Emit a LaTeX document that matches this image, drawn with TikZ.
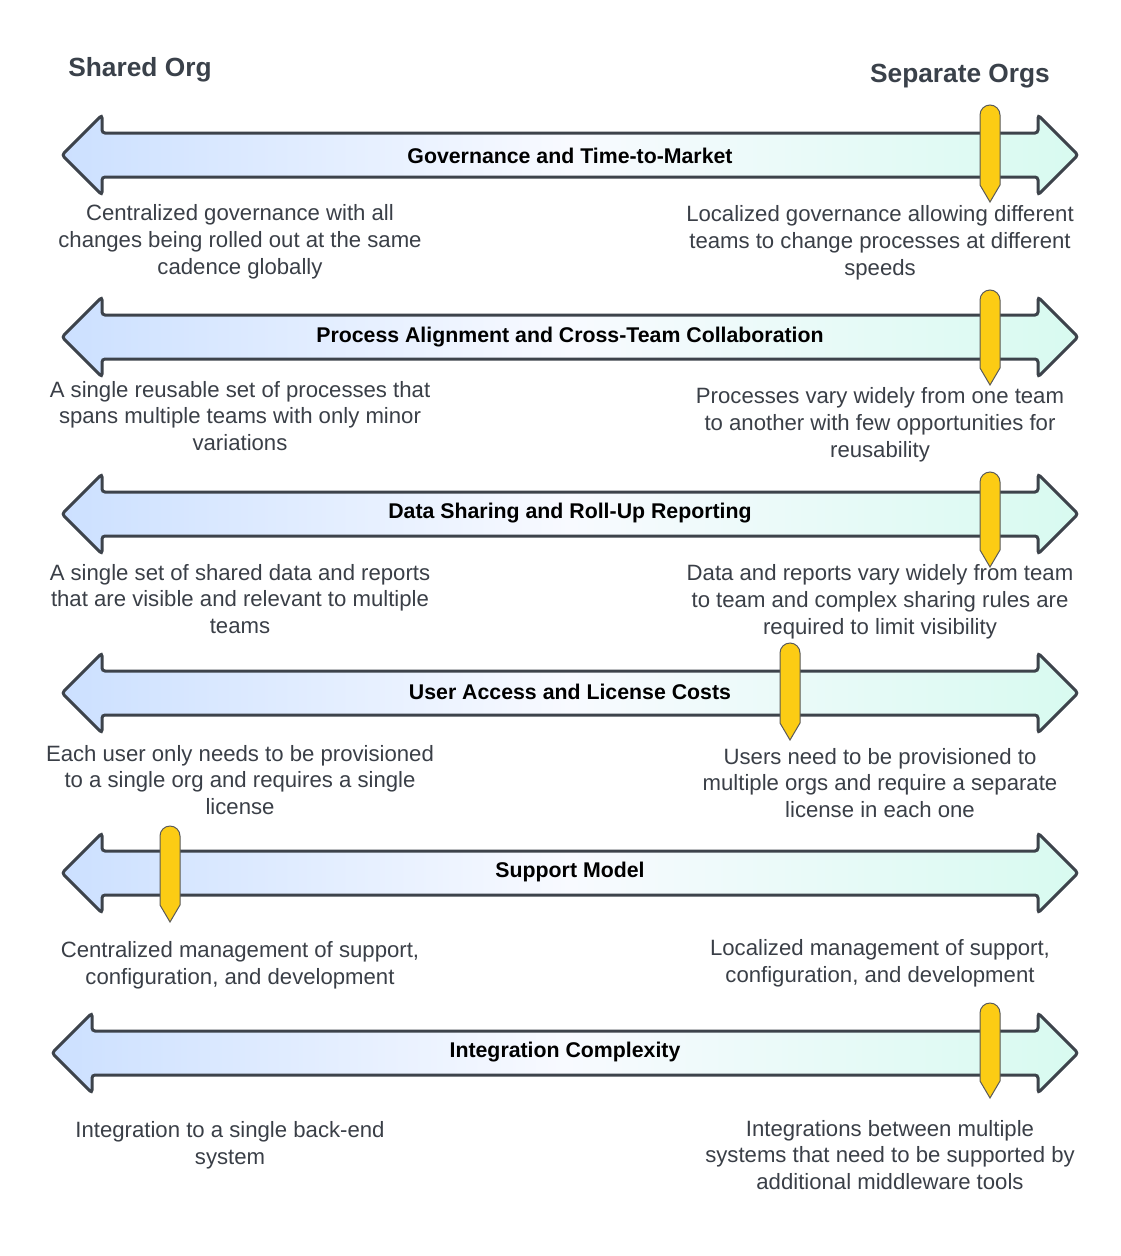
\documentclass[tikz,border=0pt]{standalone}
\usepackage{fontspec}
\setmainfont{Liberation Sans}
\definecolor{arrowline}{HTML}{3D434B}
\definecolor{leftblue}{HTML}{CCE0FF}
\definecolor{midwhite}{HTML}{F8FAFF}
\definecolor{rightcyan}{HTML}{D8FAF0}
\definecolor{markeryellow}{HTML}{FCCC14}
\definecolor{markerline}{HTML}{5A5A5A}
\definecolor{bodytext}{HTML}{3A3F47}
\definecolor{titletext}{HTML}{3A414A}
\tikzset{
  bararrow/.style={draw=arrowline, line width=3pt, rounded corners=3pt, left color=leftblue, right color=rightcyan, middle color=midwhite},
  orgmark/.style={draw=markerline, line width=1pt, fill=markeryellow},
  desc/.style={text=bodytext, font=\fontsize{22.15}{26.8}\selectfont, align=center, inner sep=0pt},
  barlabel/.style={text=black, font=\fontsize{21.3}{25}\selectfont\bfseries, inner sep=0pt},
  headtitle/.style={text=titletext, font=\fontsize{26.3}{30}\selectfont\bfseries, inner sep=0pt}
}
\newcommand\drawbar[3]{% left tip x, right tip x, center y
  \path[bararrow] (#1,#3) -- (#1+40,#3-40) -- (#1+40,#3-22) -- (#2-40,#3-22) -- (#2-40,#3-40) -- (#2,#3)
    -- (#2-40,#3+40) -- (#2-40,#3+22) -- (#1+40,#3+22) -- (#1+40,#3+40) -- cycle;}
\newcommand\drawmarker[3]{% x, top y, bottom y
  \path[orgmark] (#1-10,#2+10) arc (180:360:10) -- (#1+10,#3-17) -- (#1,#3) -- (#1-10,#3-17) -- cycle;}
\begin{document}
\begin{tikzpicture}[x=1pt,y=-1pt]
\useasboundingbox[fill=white] (0,0) rectangle (1120,1256);

\node[headtitle] (shared) at (140,70) {Shared Org};
\node[headtitle] (separate) at (960,76) {Separate Orgs};

% Bar 1
\drawbar{62}{1078}{155}
\node[barlabel] (lab1) at (570,156) {Governance and Time-to-Market};
\drawmarker{990}{105}{202}
\node[desc] (l1) at (240,242) {Centralized governance with all\\changes being rolled out at the same\\cadence globally};
\node[desc] (r1) at (880,243) {Localized governance allowing different\\teams to change processes at different\\speeds};

% Bar 2
\drawbar{62}{1078}{337}
\node[barlabel] (lab2) at (570,337) {Process Alignment and Cross-Team Collaboration};
\drawmarker{990}{290}{385}
\node[desc] (l2) at (240,416) {A single reusable set of processes that\\spans multiple teams with only minor\\variations};
\node[desc] (r2) at (880,425) {Processes vary widely from one team\\to another with few opportunities for\\reusability};

% Bar 3
\drawbar{62}{1078}{514}
\node[barlabel] (lab3) at (570,513) {Data Sharing and Roll-Up Reporting};
\drawmarker{990}{472}{567}
\node[desc] (l3) at (240,599) {A single set of shared data and reports\\that are visible and relevant to multiple\\teams};
\node[desc] (r3) at (880,602) {Data and reports vary widely from team\\to team and complex sharing rules are\\required to limit visibility};

% Bar 4
\drawbar{62}{1078}{693}
\node[barlabel] (lab4) at (570,692) {User Access and License Costs};
\drawmarker{790}{643}{740}
\node[desc] (l4) at (240,780) {Each user only needs to be provisioned\\to a single org and requires a single\\license};
\node[desc] (r4) at (880,783) {Users need to be provisioned to\\multiple orgs and require a separate\\license in each one};

% Bar 5
\drawbar{62}{1078}{873}
\node[barlabel] (lab5) at (570,872) {Support Model};
\drawmarker{170}{826}{922}
\node[desc] (l5) at (240,965) {Centralized management of support,\\configuration, and development};
\node[desc] (r5) at (880,963) {Localized management of support,\\configuration, and development};

% Bar 6
\drawbar{52}{1078}{1053}
\node[barlabel] (lab6) at (565,1052) {Integration Complexity};
\drawmarker{990}{1003}{1098}
\node[desc] (l6) at (230,1145) {Integration to a single back-end\\system};
\node[desc] (r6) at (890,1155) {Integrations between multiple\\systems that need to be supported by\\additional middleware tools};
\end{tikzpicture}
\end{document}
